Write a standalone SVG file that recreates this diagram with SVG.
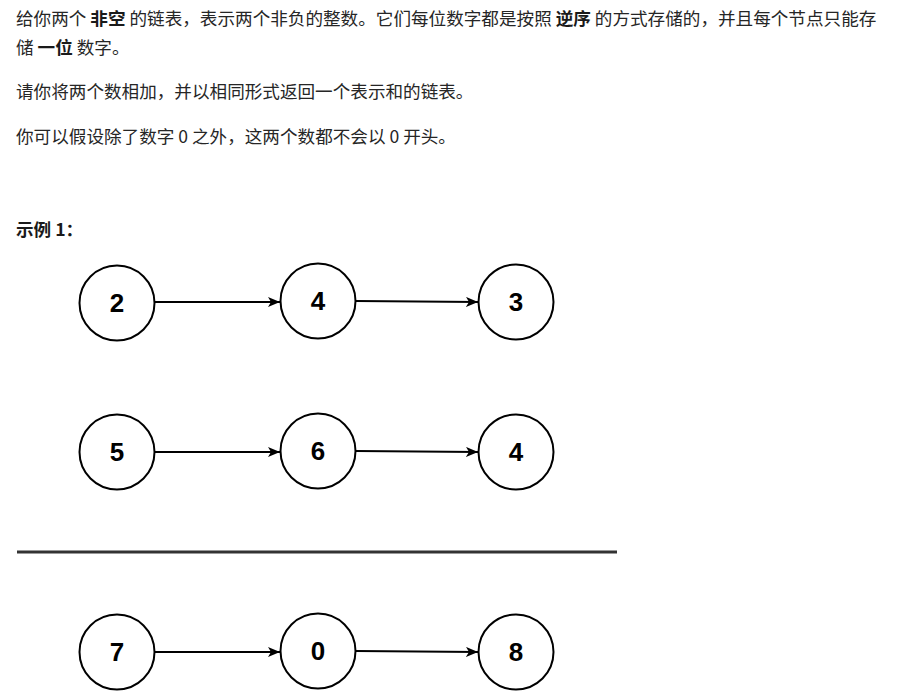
<svg xmlns="http://www.w3.org/2000/svg" width="901" height="697" viewBox="0 0 901 697">
<style>
.t{font-family:"Microsoft YaHei","Noto Sans CJK SC","Noto Sans",sans-serif;font-size:17.6px;fill:#262626}
.b{font-weight:bold;fill:#1a1a1a}
.node{fill:#fff;stroke:#000;stroke-width:2}
.num{font-family:"Liberation Sans",Arial,sans-serif;font-size:26px;font-weight:bold;fill:#000;text-anchor:middle}
.edge{stroke:#000;stroke-width:2;fill:none;marker-end:url(#arr)}
</style>
<defs>
<marker id="arr" viewBox="0 0 12 10" refX="12" refY="5" markerWidth="12" markerHeight="10" markerUnits="userSpaceOnUse" orient="auto">
<path d="M0,0 L12,5 L0,10 L3,5 Z" fill="#000"/>
</marker>
</defs>
<rect width="901" height="697" fill="#fff"/>
<g id="text">
<text class="t" x="16" y="25">给你两个 <tspan class="b">非空</tspan> 的链表，表示两个非负的整数。它们每位数字都是按照 <tspan class="b">逆序</tspan> 的方式存储的，并且每个节点只能存</text>
<text class="t" x="16" y="54">储 <tspan class="b">一位</tspan> 数字。</text>
<text class="t" x="16" y="98">请你将两个数相加，并以相同形式返回一个表示和的链表。</text>
<text class="t" x="16" y="143">你可以假设除了数字 0 之外，这两个数都不会以 0 开头。</text>
<text class="t b" x="16" y="236">示例 1：</text>
</g>
<g id="connectors">
<line class="edge" x1="155" y1="302" x2="280" y2="302"/>
<line class="edge" x1="356" y1="301" x2="478" y2="302"/>
<line class="edge" x1="155" y1="452" x2="280" y2="452"/>
<line class="edge" x1="356" y1="451" x2="478" y2="452"/>
<line class="edge" x1="155" y1="652" x2="280" y2="652"/>
<line class="edge" x1="356" y1="651" x2="478" y2="652"/>
</g>
<g id="separator"><line x1="17" y1="552" x2="617" y2="552" stroke="#333" stroke-width="3"/></g>
<g id="n2"><circle class="node" cx="117" cy="303" r="37.5"/><text class="num" x="117" y="312">2</text></g>
<g id="n4a"><circle class="node" cx="318" cy="301" r="37.5"/><text class="num" x="318" y="310">4</text></g>
<g id="n3"><circle class="node" cx="516" cy="302" r="37.5"/><text class="num" x="516" y="311">3</text></g>
<g id="n5"><circle class="node" cx="117" cy="452" r="37.5"/><text class="num" x="117" y="461">5</text></g>
<g id="n6"><circle class="node" cx="318" cy="451" r="37.5"/><text class="num" x="318" y="460">6</text></g>
<g id="n4b"><circle class="node" cx="516" cy="452" r="37.5"/><text class="num" x="516" y="461">4</text></g>
<g id="n7"><circle class="node" cx="117" cy="652" r="37.5"/><text class="num" x="117" y="661">7</text></g>
<g id="n0"><circle class="node" cx="318" cy="651" r="37.5"/><text class="num" x="318" y="660">0</text></g>
<g id="n8"><circle class="node" cx="516" cy="652" r="37.5"/><text class="num" x="516" y="661">8</text></g>
</svg>
